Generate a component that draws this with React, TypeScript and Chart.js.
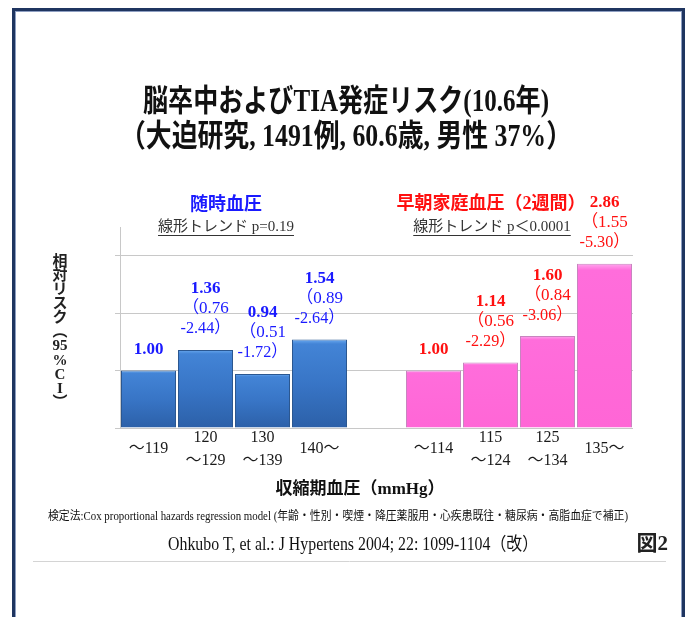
import React, { useEffect, useRef } from "react";
import { Chart, registerables } from "chart.js";
Chart.register(...registerables);

const W = 691;
const H = 617;
const SERIF = '"Liberation Serif", "Noto Sans CJK JP", serif';

// ---- data ----
const xLabels: string[][] = [
  ["～119"], ["120", "～129"], ["130", "～139"], ["140～"],
  [""],
  ["～114"], ["115", "～124"], ["125", "～134"], ["135～"],
];
const casualRR = [1.0, 1.36, 0.94, 1.54, null, null, null, null, null];
const casualLow = [null, 0.76, 0.51, 0.89, null, null, null, null, null];
const casualHigh = [null, 2.44, 1.72, 2.64, null, null, null, null, null];
const homeRR = [null, null, null, null, null, 1.0, 1.14, 1.6, 2.86];
const homeLow = [null, null, null, null, null, null, 0.56, 0.84, 1.55];
const homeHigh = [null, null, null, null, null, null, 2.29, 3.06, 5.3];

const titleLines = ["脳卒中およびTIA発症リスク(10.6年)", "（大迫研究, 1491例, 60.6歳, 男性 37%）"];
const casualHeader = "随時血圧";
const casualTrend = "線形トレンド p=0.19";
const homeHeader = "早朝家庭血圧（2週間）";
const homeTrend = "線形トレンド p＜0.0001";
const xTitle = "収縮期血圧（mmHg）";
const yTitleParts = ["相", "対", "リ", "ス", "ク", "︵", "95", "%", "C", "I", "︶"];
const footnote = "検定法:Cox proportional hazards regression model (年齢・性別・喫煙・降圧薬服用・心疾患既往・糖尿病・高脂血症で補正)";
const citation = "Ohkubo T, et al.: J Hypertens 2004; 22: 1099-1104（改）";
const figLabel = "図2";

const BLUE_TXT = "#1a1aff";
const RED_TXT = "#ff1010";

function drawText(
  ctx: CanvasRenderingContext2D,
  s: string,
  x: number,
  y: number,
  font: string,
  color: string,
  opts: { align?: CanvasTextAlign; maxW?: number; squeeze?: number; underline?: number } = {}
) {
  ctx.save();
  ctx.font = font;
  ctx.fillStyle = color;
  ctx.textAlign = opts.align || "center";
  ctx.textBaseline = "middle";
  const natural = ctx.measureText(s).width;
  let mw = opts.maxW ?? natural;
  if (opts.squeeze) mw = natural * opts.squeeze;
  const drawnW = Math.min(natural, mw);
  ctx.fillText(s, x, y, mw);
  if (opts.underline !== undefined) {
    let x0 = x - drawnW / 2;
    if (ctx.textAlign === "left") x0 = x;
    ctx.strokeStyle = color;
    ctx.lineWidth = 1;
    ctx.beginPath();
    ctx.moveTo(x0, Math.round(y + opts.underline) + 0.5);
    ctx.lineTo(x0 + drawnW, Math.round(y + opts.underline) + 0.5);
    ctx.stroke();
  }
  ctx.restore();
}

const decor = {
  id: "decor",
  beforeDraw(chart: any) {
    const ctx: CanvasRenderingContext2D = chart.ctx;
    ctx.save();
    ctx.fillStyle = "#ffffff";
    ctx.fillRect(0, 0, W, H);
    ctx.restore();
  },
  afterDraw(chart: any) {
    const ctx: CanvasRenderingContext2D = chart.ctx;
    const xs = chart.scales.x;
    const ys = chart.scales.y;

    // frame
    ctx.save();
    ctx.strokeStyle = "#1f3560";
    ctx.lineWidth = 3;
    ctx.strokeRect(13.5, 9.5, 670, 720);
    ctx.strokeStyle = "#8e9fc2";
    ctx.lineWidth = 1;
    ctx.strokeRect(15.5, 11.5, 666, 720);
    ctx.strokeStyle = "#d4d4d4";
    ctx.beginPath();
    ctx.moveTo(33, 561.5);
    ctx.lineTo(666, 561.5);
    ctx.stroke();
    ctx.restore();

    // title
    drawText(ctx, titleLines[0], 346, 103, `bold 31px ${SERIF}`, "#111", { maxW: 406 });
    drawText(ctx, titleLines[1], 346, 138, `bold 31px ${SERIF}`, "#111", { maxW: 452 });

    // group headers
    drawText(ctx, casualHeader, 226, 205, `bold 18px ${SERIF}`, BLUE_TXT);
    drawText(ctx, casualTrend, 226, 227, `15px ${SERIF}`, "#333", { underline: 8, maxW: 136 });
    drawText(ctx, homeHeader, 491, 204, `bold 18px ${SERIF}`, RED_TXT);
    drawText(ctx, homeTrend, 492, 227, `15px ${SERIF}`, "#333", { underline: 8, maxW: 160 });

    // bar annotations
    const annotate = (rr: (number | null)[], lo: (number | null)[], hi: (number | null)[], color: string) => {
      rr.forEach((v, i) => {
        if (v == null) return;
        const x = xs.getPixelForValue(i);
        const top = ys.getPixelForValue(v);
        const lines: { s: string; bold: boolean }[] = [{ s: v.toFixed(2), bold: true }];
        if (lo[i] != null && hi[i] != null) {
          lines.push({ s: "（" + (lo[i] as number).toFixed(2), bold: false });
          lines.push({ s: "-" + (hi[i] as number).toFixed(2) + "）", bold: false });
        }
        const n = lines.length;
        lines.forEach((ln, k) => {
          const y = top - 21 - (n - 1 - k) * 20;
          drawText(ctx, ln.s, x, y, `${ln.bold ? "bold " : ""}17px ${SERIF}`, color, { maxW: 50 });
        });
      });
    };
    annotate(casualRR, casualLow, casualHigh, BLUE_TXT);
    annotate(homeRR, homeLow, homeHigh, RED_TXT);

    // axis titles
    drawText(ctx, xTitle, 360, 490, `bold 17px ${SERIF}`, "#111");
    const yStart = 262;
    const step = (403 - 262) / (yTitleParts.length - 1);
    yTitleParts.forEach((c, k) => {
      drawText(ctx, c, 60, yStart + k * step, `bold 15px ${SERIF}`, "#222", c.length > 1 ? { maxW: 15 } : {});
    });

    // footnotes
    drawText(ctx, footnote, 48, 517, `12px ${SERIF}`, "#111", { align: "left", maxW: 580 });
    drawText(ctx, citation, 168, 545, `18px ${SERIF}`, "#111", { align: "left", maxW: 370 });
    drawText(ctx, figLabel, 668, 545, `bold 21px ${SERIF}`, "#222", { align: "right" });
  },
};

function barGradient(chart: any, raw: any, stops: [number, string][], fallback: string) {
  const ys = chart.scales?.y;
  if (!ys || raw == null || !chart.chartArea) return fallback;
  const top = ys.getPixelForValue(raw);
  const bottom = ys.getPixelForValue(0);
  if (!isFinite(top) || !isFinite(bottom) || bottom - top < 1) return fallback;
  const g = chart.ctx.createLinearGradient(0, top, 0, bottom);
  stops.forEach(([p, c]) => g.addColorStop(p, c));
  return g;
}

export default function App() {
  const ref = useRef<HTMLCanvasElement | null>(null);
  useEffect(() => {
    document.body.style.margin = "0";
    const canvas = ref.current!;
    const chart = new Chart(canvas, {
      type: "bar",
      data: {
        labels: xLabels as any,
        datasets: [
          {
            label: "随時血圧",
            data: casualRR as any,
            grouped: false,
            barPercentage: 0.965,
            categoryPercentage: 1,
            borderWidth: 1,
            borderColor: "#2b5790",
            backgroundColor: (c: any) =>
              barGradient(c.chart, c.raw, [[0, "#6aaaf0"], [0.05, "#4384d6"], [0.5, "#3875c6"], [1, "#2c60a8"]], "#3875c6"),
          } as any,
          {
            label: "早朝家庭血圧",
            data: homeRR as any,
            grouped: false,
            barPercentage: 0.965,
            categoryPercentage: 1,
            borderWidth: 1,
            borderColor: "#c884bf",
            backgroundColor: (c: any) =>
              barGradient(c.chart, c.raw, [[0, "#ffa6ee"], [0.04, "#ff6ddb"], [1, "#ff66d6"]], "#ff66d6"),
          } as any,
        ],
      },
      options: {
        responsive: false,
        animation: false,
        devicePixelRatio: 1,
        layout: { padding: { left: 115, right: 58, top: 227, bottom: 0 } },
        plugins: { legend: { display: false }, tooltip: { enabled: false }, title: { display: false } },
        scales: {
          x: {
            grid: { display: false },
            border: { display: false },
            ticks: {
              autoSkip: false,
              maxRotation: 0,
              minRotation: 0,
              crossAlign: "center",
              padding: 2,
              color: "#1a1a1a",
              font: { family: SERIF, size: 16, lineHeight: 1.4 },
            },
            afterFit: (s: any) => {
              s.height = H - 428;
            },
          },
          y: {
            min: 0,
            max: 3.5,
            ticks: { display: false, stepSize: 1, includeBounds: false },
            grid: { color: "#c8c8c8", tickLength: 5, drawTicks: true, lineWidth: 1 },
            border: { display: true, color: "#c8c8c8" },
            afterFit: (s: any) => {
              s.width = 5;
            },
          },
        },
      } as any,
      plugins: [decor],
    });
    return () => chart.destroy();
  }, []);
  return (
    <div style={{ width: W, height: H }}>
      <canvas ref={ref} width={W} height={H} style={{ display: "block" }} />
    </div>
  );
}
